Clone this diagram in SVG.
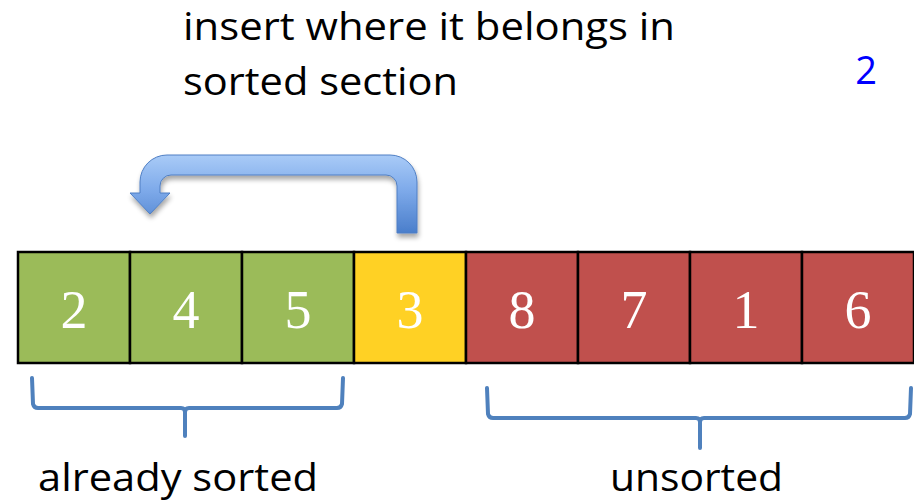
<svg xmlns="http://www.w3.org/2000/svg" width="914" height="504" viewBox="0 0 914 504">
  <defs>
    <linearGradient id="arrowFill" x1="0" y1="0" x2="0" y2="1">
      <stop offset="0" stop-color="#a9cbf7"/>
      <stop offset="0.45" stop-color="#7eaaea"/>
      <stop offset="1" stop-color="#4a7ecb"/>
    </linearGradient>
    <filter id="softShadow" x="-10%" y="-10%" width="130%" height="140%">
      <feGaussianBlur in="SourceAlpha" stdDeviation="2.5"/>
      <feOffset dx="1" dy="4" result="b"/>
      <feComponentTransfer><feFuncA type="linear" slope="0.35"/></feComponentTransfer>
      <feMerge><feMergeNode/><feMergeNode in="SourceGraphic"/></feMerge>
    </filter>
  </defs>
  <style>
    .label { font-family: "Open Sans", "Liberation Sans", sans-serif; font-size: 38px; fill: #000; }
    .cell rect { stroke: #000; stroke-width: 2.5; }
    .cell text { font-family: "Liberation Serif", serif; font-size: 54px; fill: #fff; text-anchor: middle; }
    .sorted rect { fill: #9bbb59; }
    .current rect { fill: #ffd124; }
    .unsorted rect { fill: #c0504d; }
    .brace { fill: none; stroke: #4f81bd; stroke-width: 4; stroke-linejoin: round; stroke-linecap: round; }
  </style>

  <rect width="914" height="504" fill="#fff"/>

  <!-- heading -->
  <g id="heading">
    <text class="label" x="183" y="40" textLength="492" lengthAdjust="spacingAndGlyphs">insert where it belongs in</text>
    <text class="label" x="183" y="95" textLength="275" lengthAdjust="spacingAndGlyphs">sorted section</text>
  </g>
  <g id="step-number">
    <text x="866" y="84" font-family="Open Sans, Liberation Sans, sans-serif" font-size="38" fill="#0000ff" text-anchor="middle">2</text>
  </g>

  <!-- array cells -->
  <g id="cell-0" class="cell sorted"><rect x="18" y="252" width="112" height="111"/><text x="74" y="328">2</text></g>
  <g id="cell-1" class="cell sorted"><rect x="130" y="252" width="112" height="111"/><text x="186" y="328">4</text></g>
  <g id="cell-2" class="cell sorted"><rect x="242" y="252" width="112" height="111"/><text x="298" y="328">5</text></g>
  <g id="cell-3" class="cell current"><rect x="354" y="252" width="112" height="111"/><text x="410" y="328">3</text></g>
  <g id="cell-4" class="cell unsorted"><rect x="466" y="252" width="112" height="111"/><text x="522" y="328">8</text></g>
  <g id="cell-5" class="cell unsorted"><rect x="578" y="252" width="112" height="111"/><text x="634" y="328">7</text></g>
  <g id="cell-6" class="cell unsorted"><rect x="690" y="252" width="112" height="111"/><text x="746" y="328">1</text></g>
  <g id="cell-7" class="cell unsorted"><rect x="802" y="252" width="112" height="111"/><text x="858" y="328">6</text></g>

  <!-- connectors: insertion arrow and range braces -->
  <g id="connectors">
    <path filter="url(#softShadow)" fill="url(#arrowFill)" stroke="#4f7fc4" stroke-width="1"
          d="M417,233 L417,182 A27,27 0 0 0 390,155 L167,155 A27,27 0 0 0 140,182 L140,193 L130,193 L150,214 L170,193 L160,193 L160,186 A11,11 0 0 1 171,175 L386,175 A11,11 0 0 1 397,186 L397,233 Z"/>
    <path class="brace" d="M32,378 L33,404 Q34,408 38,408 L181,408 Q185,408 185,412 L185,436 M185,412 Q185,408 189,408 L337,408 Q341,408 342,404 L343,378"/>
    <path class="brace" d="M487,388 L488,414 Q489,418 493,418 L696,418 Q700,418 700,422 L700,448 M700,422 Q700,418 704,418 L905,418 Q909,418 910,414 L911,388"/>
  </g>

  <g id="range-labels">
    <text class="label" x="38" y="491" textLength="280" lengthAdjust="spacingAndGlyphs">already sorted</text>
    <text class="label" x="610" y="491" textLength="173" lengthAdjust="spacingAndGlyphs">unsorted</text>
  </g>
</svg>
